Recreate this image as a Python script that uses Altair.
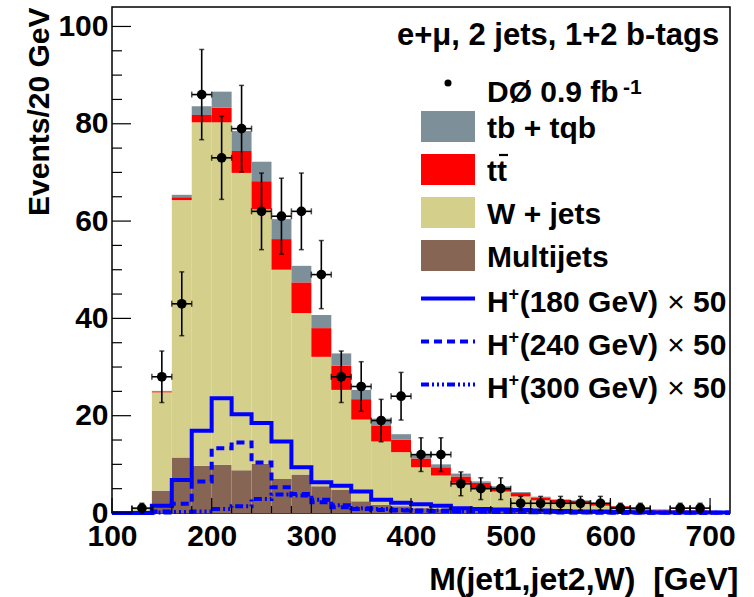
import altair as alt
import numpy as np
import pandas as pd

FONT = "Liberation Sans"

# 20 GeV bins, 100 -> 720 GeV (lower edges listed, last edge appended below)
edges = list(range(100, 740, 20))

# stacked backgrounds, events per bin (bottom -> top of the stack)
multijets = [0, 0.2, 4.6, 11.4, 9.7, 9.9, 8.8, 10.1, 7.0, 7.9, 5.5, 4.8, 2.4, 1.7, 1.4, 1.0,
             0.8, 0.7, 0.6, 0.5, 0.4, 0.3, 0.3, 0.2, 0.2, 0.1, 0.1, 0.1, 0.05, 0.05, 0.05]
wjets = [0, 0.6, 20.2, 52.9, 70.6, 70.4, 61.1, 52.3, 43.0, 33.2, 26.6, 20.5, 16.8, 13.0, 11.1, 8.4,
         6.9, 5.5, 4.5, 3.9, 3.0, 2.3, 1.8, 1.7, 1.3, 0.9, 0.6, 0.4, 0.25, 0.25, 0.15]
ttbar = [0, 0, 0.2, 0.6, 1.5, 3.0, 4.5, 5.8, 6.3, 6.3, 5.9, 5.0, 4.2, 3.3, 2.6, 1.8,
         1.7, 1.3, 1.1, 0.9, 0.7, 0.6, 0.6, 0.6, 0.4, 0.4, 0.3, 0.2, 0.2, 0.2, 0.2]
tbtqb = [0, 0, 0.1, 0.5, 1.8, 3.3, 4.1, 4.0, 4.1, 3.4, 2.7, 2.5, 1.9, 1.4, 1.1, 0.9,
         0.6, 0.6, 0.3, 0.2, 0.2, 0.15, 0.1, 0.1, 0.1, 0.05, 0.05, 0.02, 0, 0, 0]

# charged Higgs signals, scaled x50
h180 = [0, 0, 1.5, 6.8, 16.9, 23.6, 20.3, 18.5, 14.7, 9.4, 6.3, 5.6, 4.4, 2.7, 2.1, 1.8,
        1.5, 1.0, 0.8, 0.7, 0.6, 0.5, 0.4, 0.3, 0.3, 0.2, 0.15, 0.1, 0.1, 0.1, 0.1]
h240 = [0, 0, 0.3, 1.9, 6.5, 13.3, 14.5, 10.4, 5.3, 3.9, 2.2, 1.2, 0.8, 0.6, 0.5, 0.4,
        0.4, 0.3, 0.3, 0.2, 0.2, 0.15, 0.1, 0.1, 0.1, 0.05, 0.05, 0.05, 0.05, 0.05, 0.05]
h300 = [0, 0, 0.1, 0.2, 0.3, 0.8, 1.4, 2.9, 3.8, 3.6, 2.7, 1.6, 1.0, 0.8, 0.6, 0.5,
        0.5, 0.4, 0.4, 0.3, 0.3, 0.2, 0.2, 0.15, 0.1, 0.1, 0.1, 0.1, 0.05, 0.05, 0.05]

# observed events per bin
observed = [0, 1, 28, 43, 86, 73, 79, 62, 61, 62, 49, 28, 26, 19, 24, 12,
            12, 6, 5, 5, 2, 2, 2, 2, 2, 1, 1, 0, 1, 1, 0]

y_major = [0, 20, 40, 60, 80, 100]
y_minor = [v for v in range(0, 105, 5) if v % 20]
x_major = [100, 200, 300, 400, 500, 600, 700]
x_minor = [v for v in range(100, 720, 20) if v % 100]

W, H = 618, 506
xs = alt.Scale(domain=[100, 720], nice=False, zero=False)
ys = alt.Scale(domain=[0, 104], nice=False, zero=False)

comps = ["Multijets", "W + jets", "tt", "tb + tqb"]
colors = ["#876555", "#d4cf8b", "#ff0000", "#7d8f99"]

lo = edges[:-1]
hi = edges[1:]
rows = []
base = np.zeros(len(lo))
for name, vals in zip(comps, [multijets, wjets, ttbar, tbtqb]):
    v = np.array(vals, dtype=float)
    for i in range(len(lo)):
        if v[i] > 0:
            rows.append({"lo": lo[i], "hi": hi[i], "y0": base[i], "y1": base[i] + v[i], "comp": name})
    base = base + v
stack_df = pd.DataFrame(rows)

x_axis = alt.Axis(values=x_major, domain=False, ticks=False, tickSize=0, grid=False,
                  labelFont=FONT, labelFontSize=30, labelFontWeight="bold", labelColor="black",
                  labelPadding=8, labelFlush=False, labelOverlap=False,
                  title="M(jet1,jet2,W)\u00a0\u00a0[GeV]", titleFont=FONT, titleFontSize=32,
                  titleFontWeight="bold", titleColor="black", titleAlign="right",
                  titleAnchor="end", titleBaseline="alphabetic", titleX=626, titleY=76)
y_axis = alt.Axis(values=y_major, domain=False, ticks=False, tickSize=0, grid=False,
                  labelFont=FONT, labelFontSize=30, labelFontWeight="bold", labelColor="black",
                  labelPadding=4, labelFlush=False, labelOverlap=False,
                  title="Events/20 GeV", titleFont=FONT, titleFontSize=30,
                  titleFontWeight="bold", titleColor="black", titleAngle=270,
                  titleAlign="right", titleAnchor="end", titleBaseline="alphabetic",
                  titleX=-64, titleY=0)


# every layer shares the same scales and the same axis definitions
def X(f):
    return alt.X(f, scale=xs, axis=x_axis)


def Y(f):
    return alt.Y(f, scale=ys, axis=y_axis)


stack = alt.Chart(stack_df).mark_rect().encode(
    x=X("lo:Q"), x2="hi:Q", y=Y("y0:Q"), y2="y1:Q",
    color=alt.Color("comp:N", scale=alt.Scale(domain=comps, range=colors), legend=None),
)


def step_layer(vals, dash):
    df = pd.DataFrame({"x": edges, "y": list(vals) + [vals[-1]]})
    mk = dict(interpolate="step-after", strokeWidth=4, color="#0000ff")
    if dash:
        mk["strokeDash"] = dash
    return alt.Chart(df).mark_line(**mk).encode(x=X("x:Q"), y=Y("y:Q"))


DASH_240 = [8, 5]
DASH_300 = [8, 3, 2, 3, 2, 3, 2, 3]
signal = [step_layer(h180, None), step_layer(h240, DASH_240), step_layer(h300, DASH_300)]

obs = pd.DataFrame({"lo": lo, "hi": hi, "c": [l + 10 for l in lo], "n": observed})
obs = obs[obs.n > 0].copy()
obs["err"] = np.sqrt(obs.n)
obs["elo"] = obs.n - obs.err
obs["ehi"] = obs.n + obs.err

vbar = alt.Chart(obs).mark_rule(color="black", strokeWidth=1.6).encode(x=X("c:Q"), y=Y("elo:Q"), y2="ehi:Q")
hbar = alt.Chart(obs).mark_rule(color="black", strokeWidth=1.6).encode(x=X("lo:Q"), x2="hi:Q", y=Y("n:Q"))
cap_top = alt.Chart(obs).mark_tick(orient="horizontal", size=5, thickness=1.5, color="black").encode(x=X("c:Q"), y=Y("ehi:Q"))
cap_bot = alt.Chart(obs).mark_tick(orient="horizontal", size=5, thickness=1.5, color="black").encode(x=X("c:Q"), y=Y("elo:Q"))
cap_l = alt.Chart(obs).mark_tick(orient="vertical", size=6, thickness=1.5, color="black").encode(x=X("lo:Q"), y=Y("n:Q"))
cap_r = alt.Chart(obs).mark_tick(orient="vertical", size=6, thickness=1.5, color="black").encode(x=X("hi:Q"), y=Y("n:Q"))
points = alt.Chart(obs).mark_circle(size=95, color="black", opacity=1).encode(x=X("c:Q"), y=Y("n:Q"))


# inward-pointing axis ticks
def yticks(vals, length):
    return alt.Chart(pd.DataFrame({"v": vals})).mark_rule(color="black", strokeWidth=1.2).encode(
        y=Y("v:Q"), x=alt.value(0), x2=alt.value(length))


def xticks(vals, length):
    return alt.Chart(pd.DataFrame({"v": vals})).mark_rule(color="black", strokeWidth=1.2).encode(
        x=X("v:Q"), y=alt.value(H), y2=alt.value(H - length))


ticks = [yticks(y_major, 19), yticks(y_minor, 10), xticks(x_major, 15), xticks(x_minor, 7)]

# legend block
one = pd.DataFrame({"k": [0]})


def text(s, x, y, size=30, weight="bold", align="left"):
    return alt.Chart(one).mark_text(text=s, font=FONT, fontSize=size, fontWeight=weight,
                                    align=align, baseline="alphabetic", color="black").encode(
        x=alt.value(x), y=alt.value(y))


LX0, LX1, TX = 309, 363, 375
row0, step = 119.5, 43
legend = [text("e+\u03bc, 2 jets, 1+2 b-tags", 446, 38, size=31, align="center")]
legend.append(alt.Chart(one).mark_circle(size=50, color="black", opacity=1).encode(
    x=alt.value((LX0 + LX1) / 2), y=alt.value(76)))
legend.append(text("D\u00d8 0.9 fb", TX, 94.7))
legend.append(text("-1", 511, 87, size=21))
for i, (name, col) in enumerate(zip(["tb + tqb", "tt", "W + jets", "Multijets"],
                                    ["#7d8f99", "#ff0000", "#d4cf8b", "#876555"])):
    cy = row0 + step * i
    legend.append(alt.Chart(one).mark_rect(color=col).encode(
        x=alt.value(LX0), x2=alt.value(LX1), y=alt.value(cy - 15.5), y2=alt.value(cy + 15.5)))
    legend.append(text(name, TX, cy + 11))
# bar over the second t of tt
legend.append(alt.Chart(one).mark_rule(color="black", strokeWidth=2.2).encode(
    x=alt.value(387), x2=alt.value(396), y=alt.value(row0 + step - 14.5)))
for j, (mass, dash) in enumerate([("180", None), ("240", DASH_240), ("300", DASH_300)]):
    cy = row0 + step * (4 + j)
    mk = dict(color="#0000ff", strokeWidth=4)
    if dash:
        mk["strokeDash"] = dash
    legend.append(alt.Chart(one).mark_rule(**mk).encode(
        x=alt.value(LX0), x2=alt.value(LX1), y=alt.value(cy)))
    base_y = cy + 13.5
    legend.append(text("H", TX, base_y))
    legend.append(text("+", TX + 21.5, base_y - 12, size=18))
    legend.append(text("(" + mass + " GeV)", TX + 32.7, base_y))
    legend.append(text("\u00d7", TX + 189, base_y, size=30, weight="normal", align="center"))
    legend.append(text("50", TX + 206, base_y))

chart = alt.layer(stack, *signal, hbar, vbar, cap_top, cap_bot, cap_l, cap_r, points,
                  *ticks, *legend).properties(
    width=W, height=H,
    padding={"left": 112, "top": 7, "right": 24, "bottom": 84},
    autosize=alt.AutoSizeParams(type="none"),
    background="white",
).configure_view(stroke="black", strokeWidth=1.5)

chart.save("out.html", embed_options={"renderer": "svg", "actions": False})
